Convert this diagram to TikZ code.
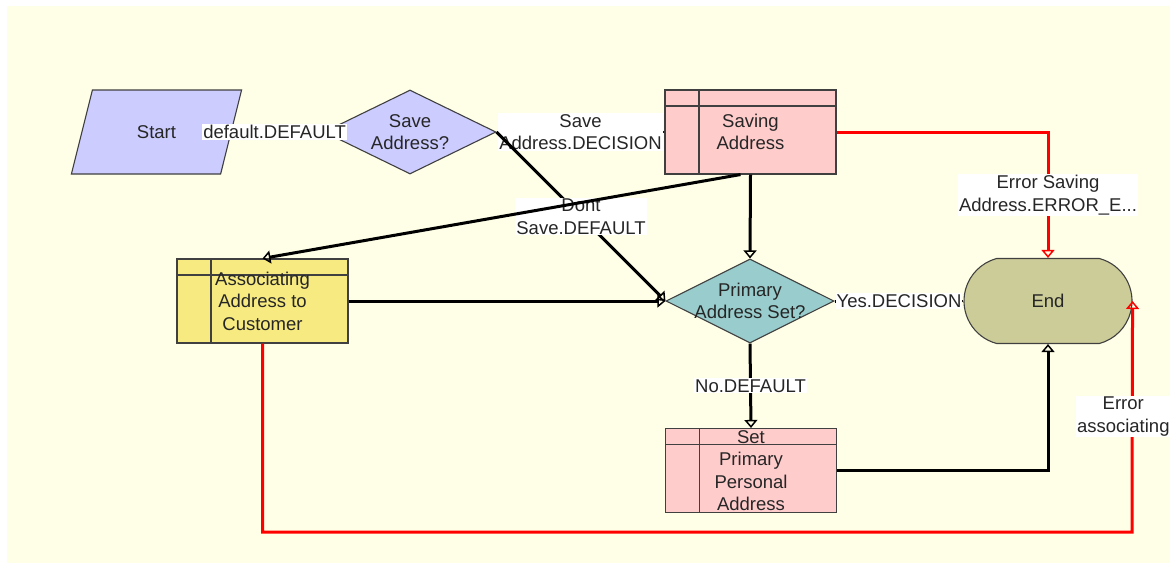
\documentclass[tikz,border=0pt]{standalone}
\usepackage{fontspec}
\setmainfont{Liberation Sans}
\usepackage{tikz}
\usetikzlibrary{arrows.meta,shapes.geometric,shapes.misc}
\usepackage{xcolor}

\begin{document}
\begin{tikzpicture}[x=1pt,y=-1pt,
  every node/.style={font=\fontsize{18.5}{22.5}\selectfont,align=center,text=black!85},
  shapebox/.style={draw=black!75,line width=1.1pt,inner sep=0pt},
  taskbox/.style={shapebox,rectangle,minimum width=171pt,minimum height=84pt,
    path picture={
      \draw[black!75,line width=1.1pt] ([yshift=-16pt]path picture bounding box.north west) -- ([yshift=-16pt]path picture bounding box.north east);
      \draw[black!75,line width=1.1pt] ([xshift=34pt]path picture bounding box.north west) -- ([xshift=34pt]path picture bounding box.south west);}},
  choice/.style={shapebox,diamond,shape aspect=2,inner xsep=-15pt,inner ysep=-6pt},
  flow/.style={draw=black,line width=3pt,-{Triangle[open,length=8pt,width=13pt,line width=1.5pt]}},
  errflow/.style={flow,draw=errred},
  tag/.style={fill=white,inner sep=1pt}]
% Define colors
\definecolor{canvas}{RGB}{255,255,232}
\definecolor{startblue}{RGB}{204,204,255}
\definecolor{taskpink}{RGB}{255,204,204}
\definecolor{assocyellow}{RGB}{246,234,128}
\definecolor{primteal}{RGB}{153,204,204}
\definecolor{endolive}{RGB}{204,204,153}
\definecolor{errred}{RGB}{255,0,0}

% Background
\useasboundingbox (0,0) rectangle (1170,563);
\fill[canvas] (7,6) rectangle (1170,563);

% Steps
\node[shapebox,trapezium,trapezium left angle=64,trapezium right angle=116,trapezium stretches=true,
  minimum width=171pt,minimum height=84pt,fill=startblue] (start) at (156.5,132) {Start};
\node[choice,minimum width=172pt,minimum height=84pt,fill=startblue] (save) at (410,132) {Save\\Address?};
\node[taskbox,fill=taskpink] (saving) at (750.5,132) {Saving\\Address};
\node[taskbox,fill=assocyellow] (assoc) at (262.5,301) {Associating\\Address to\\Customer};
\node[choice,minimum width=168pt,minimum height=84pt,fill=primteal] (prim) at (750,301) {Primary\\Address Set?};
\node[shapebox,rounded rectangle,rounded rectangle arc length=150,minimum width=168pt,minimum height=85pt,
  fill=endolive] (finish) at (1048,301) {End};
\node[taskbox,fill=taskpink] (setp) at (751,470.5) {Set\\Primary\\Personal\\Address};

% Branches
\draw[flow] (start) -- (save) node[tag,midway,xshift=-3pt] (deflabel) {default.DEFAULT};
\draw[flow,line width=1.8pt] (save.east) -- (saving.west) node[tag,midway] (savelabel) {Save\\Address.DECISION};
\draw[flow] (save.east) -- (prim.west) node[tag,midway] (dontlabel) {Dont\\Save.DEFAULT};
\draw[flow] (saving.south) -- (prim.north);
\draw[flow] ([xshift=-10pt]saving.south) -- (assoc.north);
\draw[flow] (assoc.east) -- (prim.west);
\draw[flow] (prim.east) -- (finish.west) node[tag,midway] (yeslabel) {Yes.DECISION};
\draw[flow] (prim.south) -- (setp.north) node[tag,midway] (nolabel) {No.DEFAULT};
\draw[flow] (setp.east) -| (finish.south);

% Error paths
\draw[errflow] (saving.east) -| (finish.north) node[tag,pos=0.75] (errsavelabel) {Error Saving\\Address.ERROR\_E...};
\coordinate (errcorner) at (1132,532);
\draw[errflow] (assoc.south) |- (errcorner) -- (finish.east) node[tag,midway,xshift=-9pt] (errassoclabel) {Error\\associating};
\end{tikzpicture}
\end{document}
